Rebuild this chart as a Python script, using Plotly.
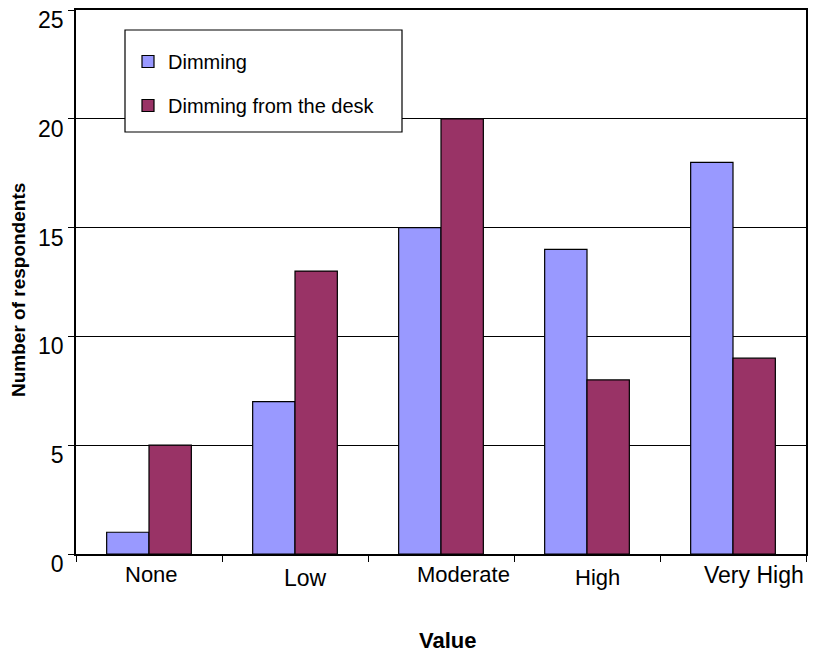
import plotly.graph_objects as go

categories = ["None", "Low", "Moderate", "High", "Very High"]
dimming = [1, 7, 15, 14, 18]
dimming_desk = [5, 13, 20, 8, 9]
y_ticks = [0, 5, 10, 15, 20, 25]

# label placement tweaks (pixel offsets, font sizes) to mimic the reference
label_shift = [2, 10, 22, 10, 21]
label_yshift = [0, -3, 0, -3, 0]
label_size = [22, 23, 22, 22, 23]

FONT = "Arial, Liberation Sans, sans-serif"

# page body has an 8px margin; size the figure so the plot lands where the reference has it
W, H = 812, 648
L, R, T, B = 68, 14, 2, 102
PW, PH = W - L - R, H - T - B


def px_x(x):  # page pixel -> paper x
    return (x - 8 - L) / PW


def px_y(y):  # page pixel -> paper y
    return 1 - (y - 8 - T) / PH


fig = go.Figure()
fig.add_trace(go.Bar(x=categories, y=dimming, name="Dimming", legendgroup="a",
                     marker=dict(color="#9999FF", line=dict(color="black", width=1.2))))
fig.add_trace(go.Bar(x=categories, y=dimming_desk, name="Dimming from the desk", legendgroup="b",
                     marker=dict(color="#993366", line=dict(color="black", width=1.2))))

annotations = []
for c, s, ys, fs in zip(categories, label_shift, label_yshift, label_size):
    annotations.append(dict(x=c, y=0, xref="x", yref="y", text=c, showarrow=False,
                            yanchor="top", xshift=s, yshift=-6 + ys,
                            font=dict(size=fs, color="black", family=FONT)))
annotations.append(dict(x=px_x(447), y=px_y(640), xref="paper", yref="paper", text="<b>Value</b>",
                        showarrow=False, yanchor="middle", xanchor="center",
                        font=dict(size=22, color="black", family=FONT)))
annotations.append(dict(x=px_x(18), y=px_y(290), xref="paper", yref="paper",
                        text="<b>Number of respondents</b>", textangle=-90,
                        showarrow=False, yanchor="middle", xanchor="center",
                        font=dict(size=19, color="black", family=FONT)))

shapes = [dict(type="rect", xref="paper", yref="paper",
               x0=px_x(125), x1=px_x(402), y0=px_y(132), y1=px_y(30),
               line=dict(color="black", width=1.2), fillcolor="white", layer="above")]

fig.update_layout(
    width=W, height=H,
    margin=dict(l=L, r=R, t=T, b=B),
    paper_bgcolor="white", plot_bgcolor="white",
    barmode="group", bargap=0.42, bargroupgap=0,
    font=dict(family=FONT, color="black"),
    showlegend=True,
    legend=dict(x=px_x(128), y=px_y(42), xanchor="left", yanchor="top",
                borderwidth=0, bgcolor="rgba(0,0,0,0)",
                font=dict(size=20, family=FONT), tracegroupgap=15,
                itemwidth=30),
    annotations=annotations,
    shapes=shapes,
    xaxis=dict(showticklabels=False, showline=True, linecolor="black", linewidth=1.5,
               mirror=True, ticks="outside", ticklen=6, tickcolor="black",
               tickson="boundaries", showgrid=False, automargin=False),
    yaxis=dict(range=[0, 25], tickvals=y_ticks, showline=True, linecolor="black",
               linewidth=1.5, mirror=True, ticks="outside", ticklen=6, tickcolor="black",
               showgrid=True, gridcolor="black", gridwidth=1, automargin=False,
               ticklabelshift=10, ticklabeloverflow="allow",
               tickfont=dict(size=23, family=FONT)),
)

fig.write_html("out.html")
